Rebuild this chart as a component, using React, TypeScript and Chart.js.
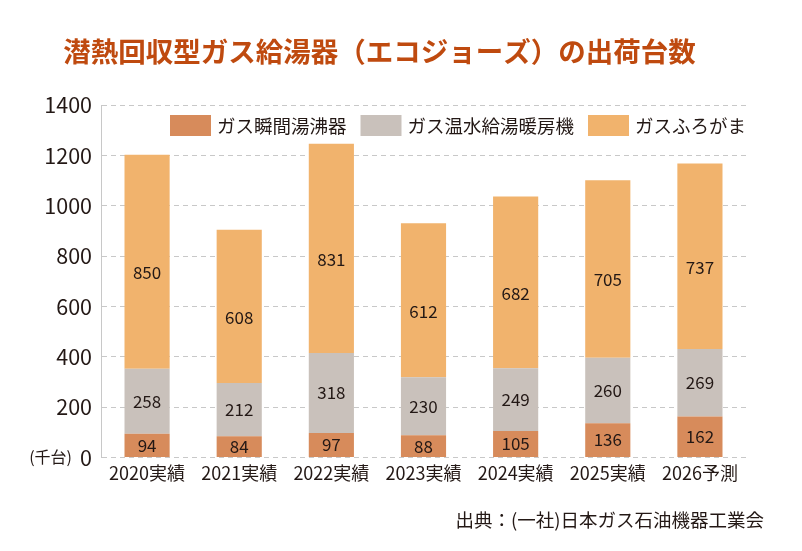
import React, { useEffect, useRef } from 'react';
import { Chart, registerables } from 'chart.js';

Chart.register(...registerables);

const categories = ['2020実績', '2021実績', '2022実績', '2023実績', '2024実績', '2025実績', '2026予測'];
const instantHeater = [94, 84, 97, 88, 105, 136, 162];
const hotWaterHeating = [258, 212, 318, 230, 249, 260, 269];
const bathHeater = [850, 608, 831, 612, 682, 705, 737];
const seriesNames = ['ガス瞬間湯沸器', 'ガス温水給湯暖房機', 'ガスふろがま'];
const seriesColors = ['#D78B5B', '#C9C1BB', '#F1B36D'];

const FONT = '"Noto Sans CJK JP", "Noto Sans", sans-serif';
const TEXT = '#231815';

// values inside each bar segment
const segmentLabels = {
  id: 'segmentLabels',
  afterDatasetsDraw(chart: Chart) {
    const ctx = chart.ctx;
    ctx.save();
    ctx.font = `17px ${FONT}`;
    ctx.fillStyle = TEXT;
    ctx.textAlign = 'center';
    ctx.textBaseline = 'middle';
    chart.data.datasets.forEach((ds, i) => {
      const meta = chart.getDatasetMeta(i);
      const shift = i === 2 ? 11 : 0;
      meta.data.forEach((bar: any, j: number) => {
        const mid = (bar.y + bar.base) / 2 + shift;
        ctx.fillText(String(ds.data[j]), bar.x, mid);
      });
    });
    ctx.restore();
  },
};

// legend sits inside the plot area, one row, top right
const innerLegend = {
  id: 'innerLegend',
  afterDraw(chart: Chart) {
    const ctx = chart.ctx;
    const top = chart.chartArea.top + 10;
    let x = 170;
    ctx.save();
    ctx.font = `18.5px ${FONT}`;
    ctx.textBaseline = 'middle';
    ctx.textAlign = 'left';
    chart.data.datasets.forEach((ds) => {
      ctx.fillStyle = ds.backgroundColor as string;
      ctx.fillRect(x, top, 41, 21);
      ctx.fillStyle = TEXT;
      const label = ds.label || '';
      ctx.fillText(label, x + 47, top + 11);
      x += 47 + ctx.measureText(label).width + 14;
    });
    ctx.restore();
  },
};

// unit label beside the 0 tick, and the source note
const extraText = {
  id: 'extraText',
  afterDraw(chart: Chart) {
    const ctx = chart.ctx;
    const y0 = chart.scales.y.getPixelForValue(0);
    ctx.save();
    ctx.fillStyle = TEXT;
    ctx.textBaseline = 'middle';
    ctx.textAlign = 'right';
    ctx.font = `16px ${FONT}`;
    ctx.fillText('(千台)', 72, y0);
    ctx.font = `18.5px ${FONT}`;
    ctx.fillText('出典：(一社)日本ガス石油機器工業会', 764, 520);
    ctx.restore();
  },
};

const App: React.FC = () => {
  const canvasRef = useRef<HTMLCanvasElement>(null);
  const chartRef = useRef<Chart | null>(null);

  useEffect(() => {
    if (!canvasRef.current) return;
    if (chartRef.current) chartRef.current.destroy();

    chartRef.current = new Chart(canvasRef.current, {
      type: 'bar',
      data: {
        labels: categories,
        datasets: [
          { label: seriesNames[0], data: instantHeater, backgroundColor: seriesColors[0] },
          { label: seriesNames[1], data: hotWaterHeating, backgroundColor: seriesColors[1] },
          { label: seriesNames[2], data: bathHeater, backgroundColor: seriesColors[2] },
        ],
      },
      options: {
        animation: false,
        responsive: true,
        maintainAspectRatio: false,
        datasets: {
          bar: { barPercentage: 0.49, categoryPercentage: 1 },
        },
        layout: { padding: { left: 13, right: 56, top: 0, bottom: 62 } },
        scales: {
          x: {
            stacked: true,
            grid: { display: false, drawTicks: false },
            border: { display: false },
            ticks: { color: TEXT, font: { family: FONT, size: 18 }, padding: 5 },
          },
          y: {
            stacked: true,
            min: 0,
            max: 1400,
            afterFit: (scale: any) => {
              scale.width = 88;
            },
            ticks: {
              stepSize: 200,
              color: TEXT,
              font: { family: FONT, size: 21.5 },
              padding: 9,
              callback: (v: any) => String(v),
            },
            grid: { color: '#C8C8C8', drawTicks: false },
            border: { display: true, color: '#C8C8C8', dash: [5, 4] },
          },
        },
        plugins: {
          title: {
            display: true,
            text: '潜熱回収型ガス給湯器（エコジョーズ）の出荷台数',
            align: 'center',
            color: '#BF4A0F',
            font: { family: FONT, size: 27.5, weight: 'bold' },
            padding: { top: 35, bottom: 37 },
          },
          legend: { display: false },
          tooltip: { enabled: false },
        },
      },
      plugins: [segmentLabels, innerLegend, extraText],
    });

    return () => {
      if (chartRef.current) {
        chartRef.current.destroy();
        chartRef.current = null;
      }
    };
  }, []);

  return (
    <div style={{ position: 'absolute', left: 0, top: 0, width: 802, height: 551, background: '#fff' }}>
      <canvas ref={canvasRef}></canvas>
    </div>
  );
};

export default App;
